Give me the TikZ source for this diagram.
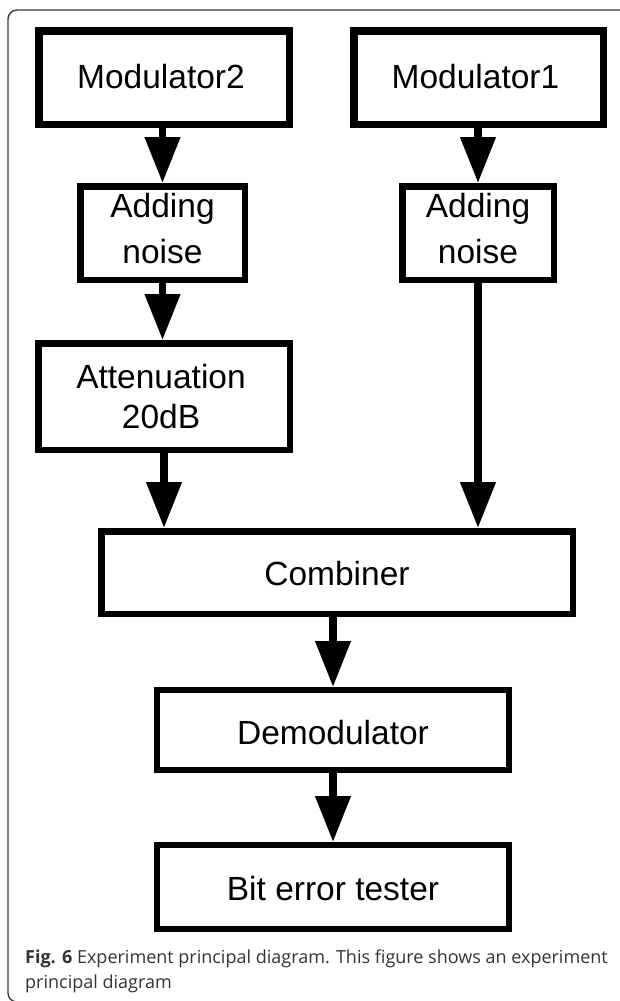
\documentclass[tikz,border=0pt]{standalone}
\usepackage{fontspec}
\setmainfont{Liberation Sans}
\newfontfamily\capfont{Open Sans}
\usetikzlibrary{arrows.meta}
\definecolor{capcol}{HTML}{333333}
\definecolor{framecol}{HTML}{3A3A3A}
\tikzset{
  box/.style={draw=black, line width=6.5pt, rectangle, inner sep=0pt, line join=miter},
  thickbox/.style={box, line width=7.5pt},
  txt/.style={anchor=base, inner sep=0pt, font=\fontsize{33.5}{40}\selectfont},
  arr/.style={line width=7.5pt, -{Triangle[length=46pt,width=34pt]}},
  captxt/.style={anchor=base west, inner sep=0pt, text=capcol, font=\capfont\fontsize{18}{27}\selectfont}
}
\begin{document}
\begin{tikzpicture}[x=1pt,y=-1pt]
\useasboundingbox (0,0) rectangle (619,1001);
\draw[framecol, line width=1.4pt, rounded corners=9pt] (640,10) -- (8,10) -- (8,1002) -- (640,1002);

\node[thickbox, minimum width=250.5pt, minimum height=93.5pt] (m2) at (164,77.5) {};
\node[thickbox, minimum width=249.5pt, minimum height=93.5pt] (m1) at (478.5,77.5) {};
\node[box, minimum width=164.5pt, minimum height=93.5pt] (a1) at (162.5,233) {};
\node[box, minimum width=151.5pt, minimum height=93.5pt] (a2) at (478,233) {};
\node[box, minimum width=251.5pt, minimum height=106.5pt] (att) at (164,396.5) {};
\node[box, minimum width=471.5pt, minimum height=82.5pt] (comb) at (337,572.5) {};
\node[box, line width=6pt, minimum width=352pt, minimum height=80pt] (dem) at (333,730) {};
\node[box, line width=6pt, minimum width=352pt, minimum height=84pt] (ber) at (333,887) {};

\node[txt] (tm2) at (161,88) {Modulator2};
\node[txt] (tm1) at (475.5,88) {Modulator1};
\node[txt] (ta1a) at (162.5,217) {Adding};
\node[txt] (ta1b) at (162.5,263) {noise};
\node[txt] (ta2a) at (478,217) {Adding};
\node[txt] (ta2b) at (478,263) {noise};
\node[txt] (tat1) at (161,388) {Attenuation};
\node[txt] (tat2) at (161,428) {20dB};
\node[txt] (tcb) at (337,585) {Combiner};
\node[txt] (tdm) at (333,744) {Demodulator};
\node[txt] (tbe) at (333,900) {Bit error tester};

\draw[arr] (a1.north |- m2.south) -- (a1.north);
\draw[arr] (m1.south -| a2.north) -- (a2.north);
\draw[arr] (a1.south) -- (a1.south |- att.north);
\draw[arr] (att.south) -- (att.south |- comb.north);
\draw[arr] (a2.south) -- (a2.south |- comb.north);
\draw[arr] (dem.north |- comb.south) -- (dem.north);
\draw[arr] (dem.south) -- (ber.north);

\node[captxt] (cap1) at (25,963) {\textbf{Fig. 6} Experiment principal diagram. This figure shows an experiment};
\node[captxt] (cap2) at (25,988) {principal diagram};
\end{tikzpicture}
\end{document}
